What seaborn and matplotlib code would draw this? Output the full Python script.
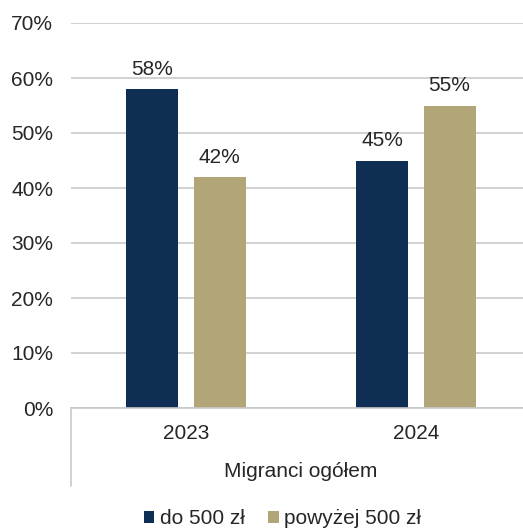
import pandas as pd
import seaborn as sns
import matplotlib.pyplot as plt
from matplotlib.ticker import FuncFormatter

# Data
years = ['2023', '2024']
do_500 = [58, 45]
powyzej_500 = [42, 55]
series_names = ['do 500 zł', 'powyżej 500 zł']
group_label = 'Migranci ogółem'

navy = '#0f2e53'
khaki = '#b2a679'
grid_grey = '#c9c9c9'
text_col = '#262626'

df = pd.DataFrame({
    'rok': years * 2,
    'udzial': do_500 + powyzej_500,
    'kwota': [series_names[0]] * len(years) + [series_names[1]] * len(years),
})

sns.set_style('white')
plt.rcParams['font.family'] = ['Liberation Sans', 'DejaVu Sans']
plt.rcParams['text.color'] = text_col

fig = plt.figure(figsize=(5.23, 5.28), dpi=100)
# axes span 71..531 px horizontally (right edge falls just off the canvas), 23..408 px vertically
ax = fig.add_axes([71 / 523, 1 - 408 / 528, 460 / 523, 385 / 528])

sns.barplot(data=df, x='rok', y='udzial', hue='kwota', palette=[navy, khaki],
            saturation=1, width=0.583, gap=0.224, linewidth=0, ax=ax)

for cont in ax.containers:
    ax.bar_label(cont, fmt='%.0f%%', padding=7.5, fontsize=15, color=text_col)

ax.set_ylim(0, 70)
ax.set_xlim(-0.5, 1.5)
ax.set_yticks(range(0, 71, 10))
ax.yaxis.set_major_formatter(FuncFormatter(lambda v, p: f'{v:.0f}%'))
ax.tick_params(axis='y', length=0, pad=12.7, labelsize=15, labelcolor=text_col)
ax.tick_params(axis='x', length=0, pad=11.5, labelsize=15, labelcolor=text_col)
ax.set_xlabel('')
ax.set_ylabel('')

ax.set_axisbelow(True)
ax.yaxis.grid(True, color=grid_grey, linewidth=1.2)
for side in ['top', 'right', 'left']:
    ax.spines[side].set_visible(False)
ax.spines['bottom'].set_color(grid_grey)
ax.spines['bottom'].set_linewidth(1.2)

# multi-level category axis: separator lines and group label
ax.plot([0, 0], [0, -78 / 385], transform=ax.transAxes, clip_on=False,
        color=grid_grey, linewidth=1.2)
ax.plot([1, 1], [0, -78 / 385], transform=ax.transAxes, clip_on=False,
        color=grid_grey, linewidth=1.2)
ax.text(0.5, -69 / 385, group_label, transform=ax.transAxes, ha='center',
        va='baseline', fontsize=15, color=text_col)

handles, labels = ax.get_legend_handles_labels()
ax.get_legend().remove()
fig.legend(handles, labels, loc='center', bbox_to_anchor=(282.5 / 523, 1 - 519 / 528),
           ncol=2, frameon=False, fontsize=15, handlelength=0.5, handleheight=0.5,
           handletextpad=0.25, columnspacing=1.15, borderpad=0, borderaxespad=0)

fig.savefig('out.png', dpi=100)
